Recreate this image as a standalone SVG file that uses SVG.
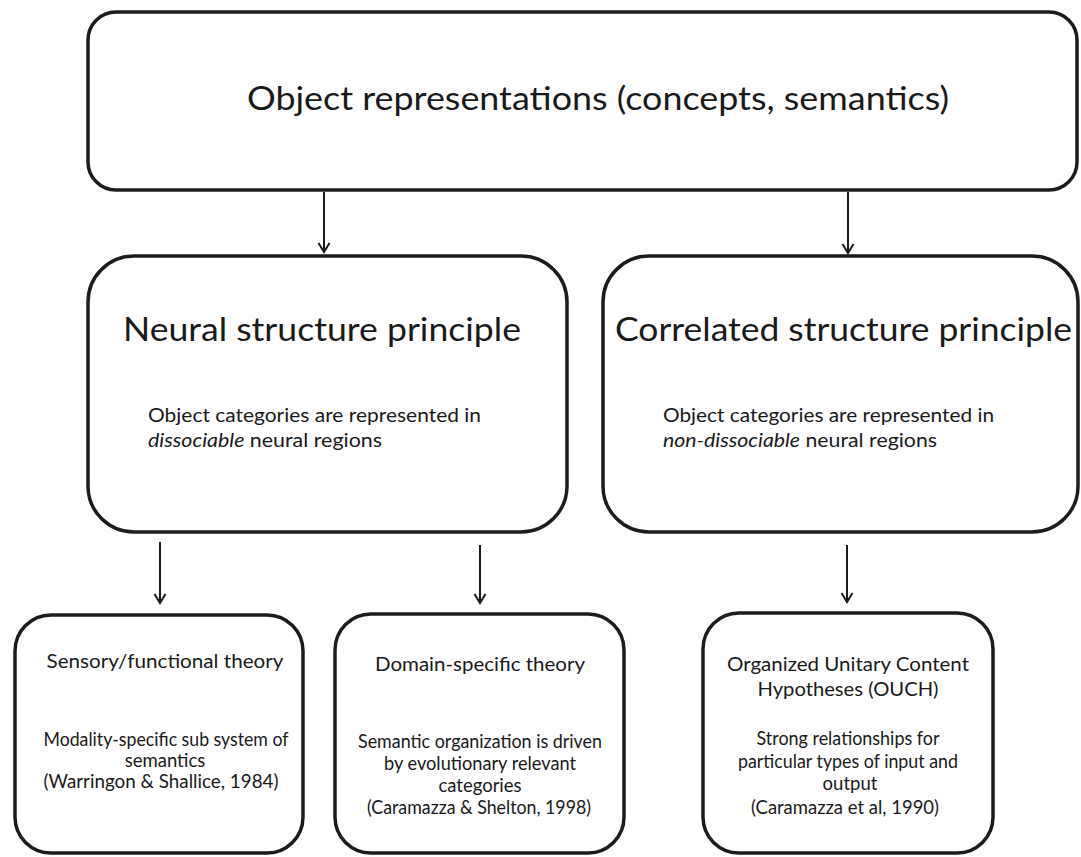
<svg xmlns="http://www.w3.org/2000/svg" width="1081" height="857" viewBox="0 0 1081 857">
  <defs>
    <style>
      .box { fill: #ffffff; stroke: #1c1c1c; stroke-width: 3.5; }
      .edge { fill: none; stroke: #1c1c1c; stroke-width: 2; }
      text { font-family: Lato, "Open Sans", "Liberation Sans", sans-serif; fill: #1a1a1a; }
      .big { font-size: 32px; }
      .head { font-size: 33.5px; }
      .sub { font-size: 18.5px; }
      .small { font-size: 18.5px; }
      .mid { text-anchor: middle; }
      .it { font-style: italic; }
    </style>
    <marker id="arrow" markerUnits="userSpaceOnUse" markerWidth="14" markerHeight="14" viewBox="-1 -7 12 14" refX="9" refY="0" orient="auto">
      <path d="M0,-5.5 L9,0 L0,5.5" fill="none" stroke="#1c1c1c" stroke-width="2"/>
    </marker>
  </defs>

  <rect width="1081" height="857" fill="#ffffff"/>

  <!-- connectors -->
  <g id="connectors">
    <line class="edge" x1="324" y1="192" x2="324" y2="252" marker-end="url(#arrow)"/>
    <line class="edge" x1="848" y1="192" x2="848" y2="253" marker-end="url(#arrow)"/>
    <line class="edge" x1="160" y1="542" x2="160" y2="603" marker-end="url(#arrow)"/>
    <line class="edge" x1="480" y1="545" x2="480" y2="603" marker-end="url(#arrow)"/>
    <line class="edge" x1="847" y1="545" x2="847" y2="602" marker-end="url(#arrow)"/>
  </g>

  <!-- root concept -->
  <g id="object-representations">
    <rect class="box" x="88" y="12" width="989" height="178" rx="28"/>
    <text class="big mid" x="598" y="110" textLength="702" lengthAdjust="spacingAndGlyphs">Object representations (concepts, semantics)</text>
  </g>

  <!-- principles -->
  <g id="neural-structure">
    <rect class="box" x="88" y="256" width="479" height="276" rx="46"/>
    <text class="head" x="123" y="341" textLength="398" lengthAdjust="spacingAndGlyphs">Neural structure principle</text>
    <text class="sub" x="148" y="422" textLength="333" lengthAdjust="spacingAndGlyphs">Object categories are represented in</text>
    <text class="sub" x="148" y="447" textLength="234" lengthAdjust="spacingAndGlyphs"><tspan class="it">dissociable</tspan> neural regions</text>
  </g>

  <g id="correlated-structure">
    <rect class="box" x="603" y="256" width="475" height="276" rx="46"/>
    <text class="head" x="615" y="341" textLength="457" lengthAdjust="spacingAndGlyphs">Correlated structure principle</text>
    <text class="sub" x="663" y="422" textLength="331" lengthAdjust="spacingAndGlyphs">Object categories are represented in</text>
    <text class="sub" x="663" y="447" textLength="274" lengthAdjust="spacingAndGlyphs"><tspan class="it">non-dissociable</tspan> neural regions</text>
  </g>

  <!-- theories -->
  <g id="sensory-functional">
    <rect class="box" x="15" y="615" width="288" height="238" rx="36"/>
    <text class="small mid" x="165" y="668" textLength="237" lengthAdjust="spacingAndGlyphs">Sensory/functional theory</text>
    <text class="small mid" x="166" y="746" textLength="245" lengthAdjust="spacingAndGlyphs">Modality-specific sub system of</text>
    <text class="small mid" x="165" y="767">semantics</text>
    <text class="small mid" x="161" y="788" textLength="235" lengthAdjust="spacingAndGlyphs">(Warringon &amp; Shallice, 1984)</text>
  </g>

  <g id="domain-specific">
    <rect class="box" x="335" y="614" width="289" height="239" rx="36"/>
    <text class="small mid" x="480" y="671" textLength="210" lengthAdjust="spacingAndGlyphs">Domain-specific theory</text>
    <text class="small mid" x="480" y="748" textLength="244" lengthAdjust="spacingAndGlyphs">Semantic organization is driven</text>
    <text class="small mid" x="480" y="770" textLength="192" lengthAdjust="spacingAndGlyphs">by evolutionary relevant</text>
    <text class="small mid" x="480" y="792">categories</text>
    <text class="small mid" x="479" y="814" textLength="224" lengthAdjust="spacingAndGlyphs">(Caramazza &amp; Shelton, 1998)</text>
  </g>

  <g id="ouch">
    <rect class="box" x="703" y="613" width="290" height="240" rx="36"/>
    <text class="small mid" x="848" y="671" textLength="242" lengthAdjust="spacingAndGlyphs">Organized Unitary Content</text>
    <text class="small mid" x="848" y="696" textLength="181" lengthAdjust="spacingAndGlyphs">Hypotheses (OUCH)</text>
    <text class="small mid" x="848" y="745" textLength="183" lengthAdjust="spacingAndGlyphs">Strong relationships for</text>
    <text class="small mid" x="848" y="768" textLength="220" lengthAdjust="spacingAndGlyphs">particular types of input and</text>
    <text class="small mid" x="850" y="790">output</text>
    <text class="small mid" x="845" y="814" textLength="188" lengthAdjust="spacingAndGlyphs">(Caramazza et al, 1990)</text>
  </g>
</svg>
